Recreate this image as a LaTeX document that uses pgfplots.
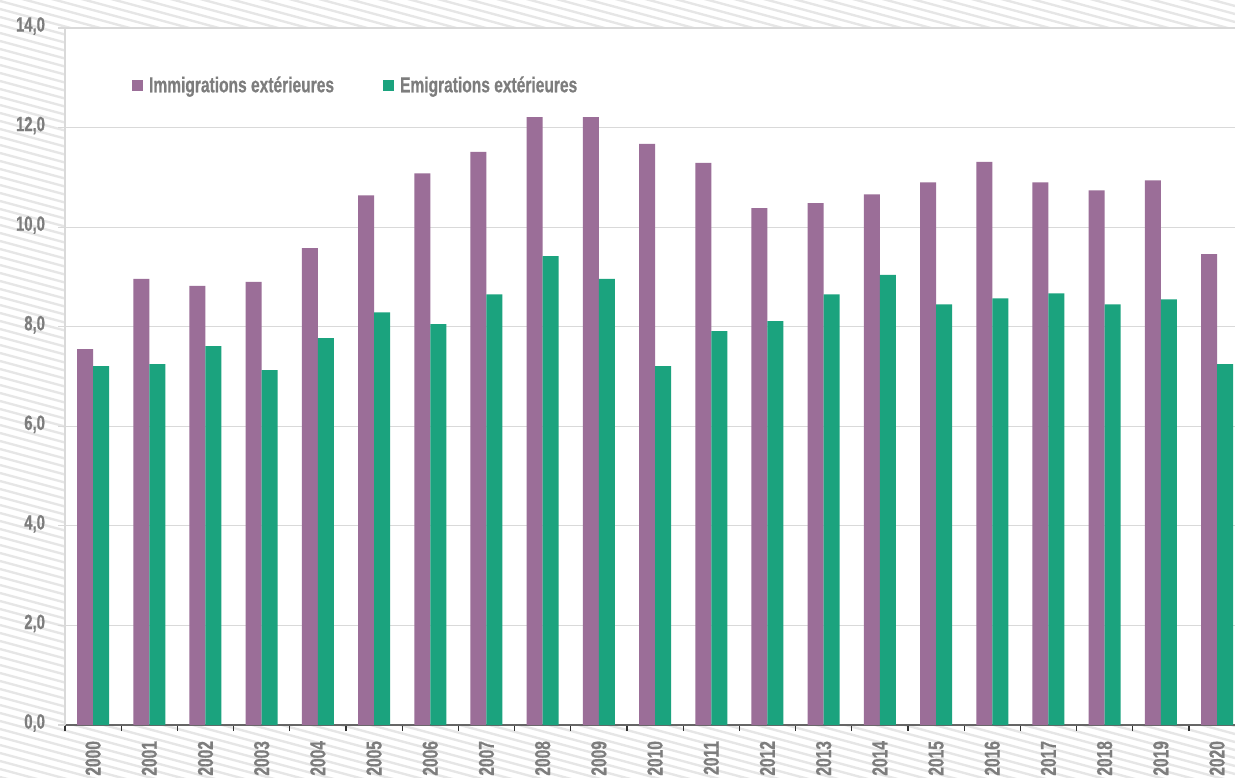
\documentclass[border=0pt]{standalone}
\usepackage{fontspec}
\setmainfont{Liberation Sans}[FakeStretch=0.72, BoldFont={Liberation Sans Bold}, BoldFeatures={FakeStretch=0.72, FakeBold=0.6}]
\usepackage{pgfplots}
\pgfplotsset{compat=1.18}
\definecolor{imm}{RGB}{155,110,152}
\definecolor{emi}{RGB}{27,163,126}
\definecolor{txt}{RGB}{125,125,125}
\definecolor{hatch}{RGB}{230,230,230}
\definecolor{gridc}{RGB}{217,217,217}
\begin{document}
\begin{tikzpicture}[x=0.5pt,y=0.5pt]
\path[use as bounding box] (0,0) rectangle (1235,777);
\begin{scope}
\clip (0,0) rectangle (1235,777);
\foreach \c in {0,8,...,1120} {\draw[hatch,line width=1.2pt] (0,\c) -- (1235,\c-333);}
\fill[white] (65,52) rectangle (1235,749);
\end{scope}
\begin{scope}
\clip (0,0) rectangle (1235,777);
\begin{axis}[
  at={(32.5pt,26pt)}, anchor=south west,
  scale only axis, width=585pt, height=348.5pt,
  xmin=-0.5, xmax=20.32, ymin=0, ymax=14,
  ybar=0pt, bar width=8pt,
  axis x line*=bottom, axis y line*=left,
  x axis line style={-, draw=black!60, line width=0.8pt},
  y axis line style={-, draw=gridc, line width=0.6pt},
  ytick={0,2,...,14},
  ymajorgrids, major grid style={draw=gridc, line width=0.6pt},
  tick align=outside,
  major tick length=3.5pt, minor tick length=3pt,
  ytick style={draw=gridc, line width=0.6pt},
  xtick={0,...,20},
  xticklabels={2000,2001,2002,2003,2004,2005,2006,2007,2008,2009,2010,2011,2012,2013,2014,2015,2016,2017,2018,2019,2020},
  xtick style={draw=none},
  minor xtick={-0.5,0.5,...,20.5},
  minor x tick style={draw=black!80, line width=0.6pt},
  x tick label style={rotate=90, anchor=east, font=\fontsize{10.8}{11}\selectfont\bfseries, text=txt, xshift=-1pt},
  y tick label style={font=\fontsize{10.3}{11}\selectfont\bfseries, text=txt, xshift=-3pt, yshift=1pt},
  /pgf/number format/.cd, fixed, fixed zerofill, precision=1, use comma, assume math mode=true,
  /pgfplots/.cd,
  legend style={at={(0.057,0.917)}, anchor=west, draw=none, fill=none,
    legend columns=2, font=\fontsize{10.8}{11}\selectfont\bfseries, text=txt,
    /tikz/every odd column/.append style={column sep=1.5pt},
    /tikz/every even column/.append style={column sep=23pt},
    inner sep=0pt, nodes={inner sep=1.5pt}},
  legend image code/.code={\fill[#1] (0pt,-2.75pt) rectangle (5.5pt,2.75pt);},
  clip=false,
]
\addplot[fill=imm, draw=none] coordinates {
(0,7.55) (1,8.96) (2,8.82) (3,8.90) (4,9.58) (5,10.64) (6,11.08) (7,11.51) (8,12.21) (9,12.21) (10,11.67)
(11,11.29) (12,10.38) (13,10.48) (14,10.66) (15,10.90) (16,11.31) (17,10.90) (18,10.74) (19,10.94) (20,9.46)};
\addplot[fill=emi, draw=none] coordinates {
(0,7.21) (1,7.25) (2,7.61) (3,7.13) (4,7.77) (5,8.29) (6,8.05) (7,8.65) (8,9.42) (9,8.96) (10,7.21)
(11,7.91) (12,8.11) (13,8.65) (14,9.04) (15,8.45) (16,8.57) (17,8.67) (18,8.45) (19,8.55) (20,7.25)};
\legend{Immigrations extérieures, Emigrations extérieures}
\end{axis}
\end{scope}
\end{tikzpicture}
\end{document}
